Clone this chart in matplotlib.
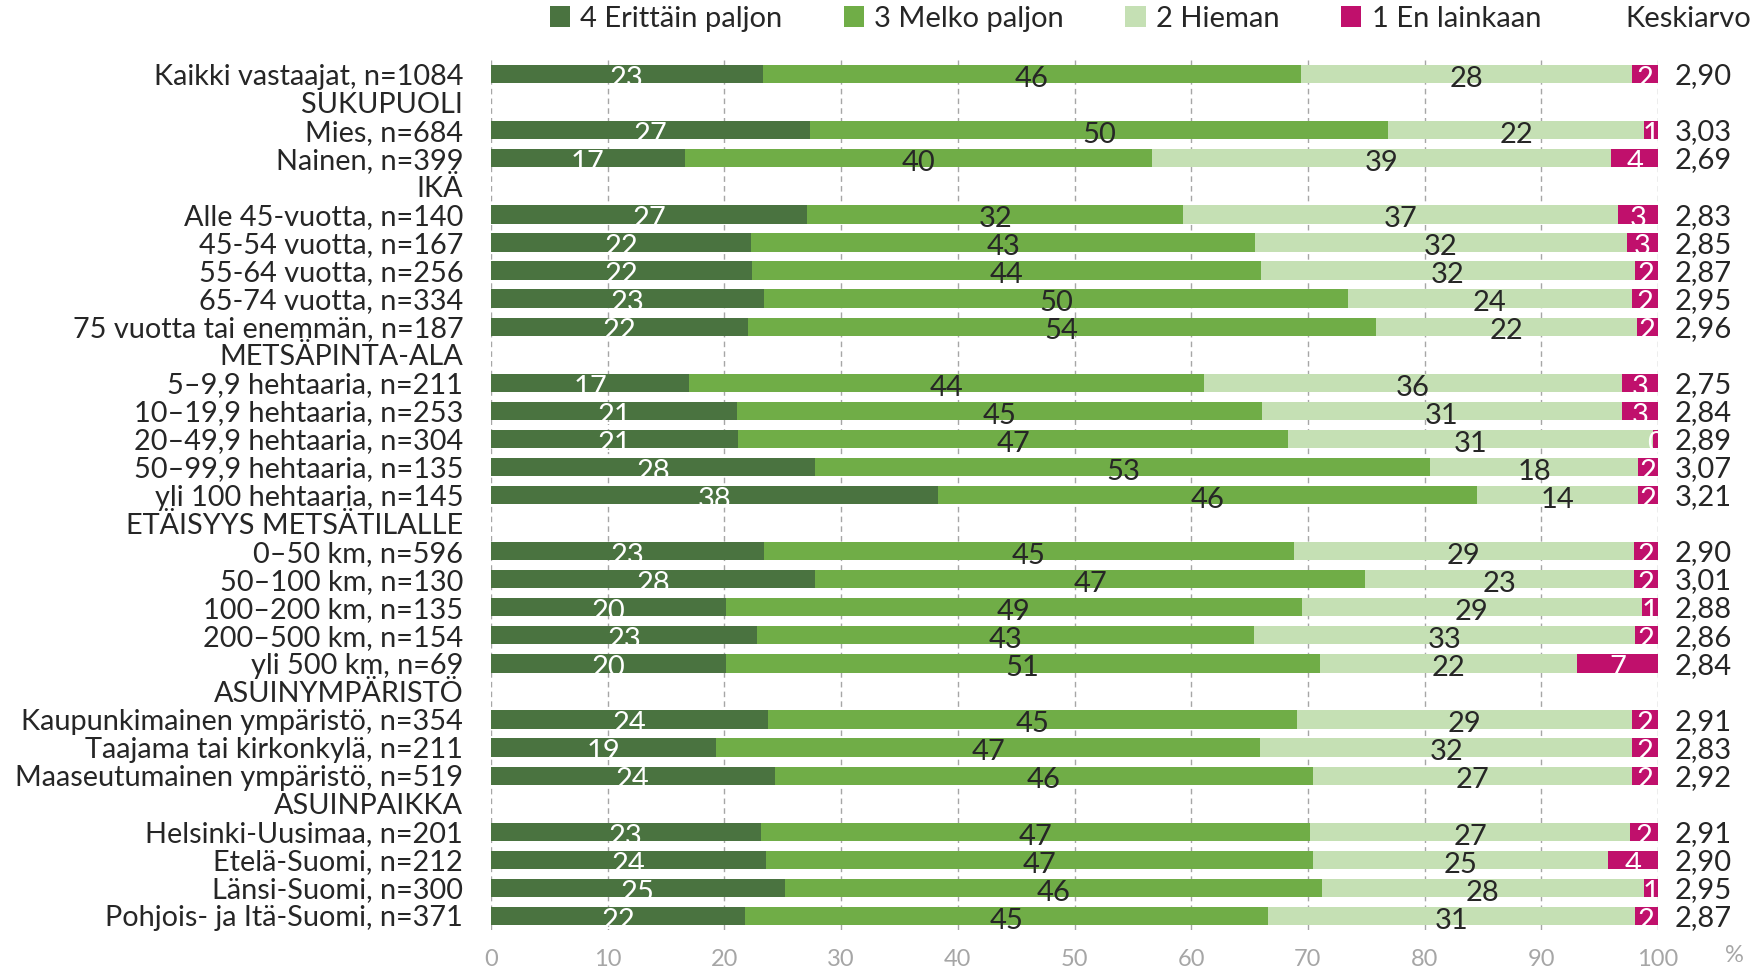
import matplotlib
matplotlib.use("Agg")
import matplotlib.pyplot as plt
from matplotlib.transforms import blended_transform_factory

plt.rcParams['font.family'] = ['Lato', 'DejaVu Sans']

# rows of the chart, None marks a group header row
rows = [
    "Kaikki vastaajat, n=1084", None,
    "Mies, n=684", "Nainen, n=399", None,
    "Alle 45-vuotta, n=140", "45-54 vuotta, n=167", "55-64 vuotta, n=256",
    "65-74 vuotta, n=334", "75 vuotta tai enemmän, n=187", None,
    "5–9,9 hehtaaria, n=211", "10–19,9 hehtaaria, n=253", "20–49,9 hehtaaria, n=304",
    "50–99,9 hehtaaria, n=135", "yli 100 hehtaaria, n=145", None,
    "0–50 km, n=596", "50–100 km, n=130", "100–200 km, n=135",
    "200–500 km, n=154", "yli 500 km, n=69", None,
    "Kaupunkimainen ympäristö, n=354", "Taajama tai kirkonkylä, n=211",
    "Maaseutumainen ympäristö, n=519", None,
    "Helsinki-Uusimaa, n=201", "Etelä-Suomi, n=212", "Länsi-Suomi, n=300",
    "Pohjois- ja Itä-Suomi, n=371",
]
headers = ["SUKUPUOLI", "IKÄ", "METSÄPINTA-ALA", "ETÄISYYS METSÄTILALLE",
           "ASUINYMPÄRISTÖ", "ASUINPAIKKA"]

series_names = ["4 Erittäin paljon", "3 Melko paljon", "2 Hieman", "1 En lainkaan"]
erittain = [23.3, 27.3, 16.6, 27.1, 22.3, 22.4, 23.4, 22.0, 17.0, 21.1, 21.2, 27.8, 38.3,
            23.4, 27.8, 20.1, 22.8, 20.1, 23.7, 19.3, 24.3, 23.1, 23.6, 25.2, 21.8]
melko = [46.1, 49.6, 40.0, 32.2, 43.2, 43.6, 50.0, 53.8, 44.1, 45.0, 47.1, 52.7, 46.2,
         45.4, 47.1, 49.4, 42.6, 50.9, 45.4, 46.6, 46.1, 47.1, 46.8, 46.0, 44.8]
hieman = [28.4, 21.9, 39.4, 37.3, 31.8, 32.0, 24.4, 22.4, 35.8, 30.8, 31.3, 17.8, 13.8,
          29.1, 23.0, 29.1, 32.6, 22.1, 28.7, 31.9, 27.4, 27.4, 25.3, 27.6, 31.4]
ei_lainkaan = [2.2, 1.2, 4.0, 3.4, 2.7, 2.0, 2.2, 1.8, 3.1, 3.1, 0.4, 1.7, 1.7,
               2.1, 2.1, 1.4, 2.0, 6.9, 2.2, 2.2, 2.2, 2.4, 4.3, 1.2, 2.0]
keskiarvo = [2.90, 3.03, 2.69, 2.83, 2.85, 2.87, 2.95, 2.96, 2.75, 2.84, 2.89, 3.07, 3.21,
             2.90, 3.01, 2.88, 2.86, 2.84, 2.91, 2.83, 2.92, 2.91, 2.90, 2.95, 2.87]

colors = ["#4a7340", "#70ad47", "#c5e0b4", "#c0106c"]
label_colors = ["white", "#262626", "#262626", "white"]
text_col = "#262626"

fig = plt.figure(figsize=(17.51, 9.76), dpi=100)
ax = fig.add_axes([0.2804, 0.0471, 0.6665, 0.8914])

ylabels = []
ypos = []
h = 0
for i, r in enumerate(rows):
    if r is None:
        ylabels.append(headers[h])
        h += 1
    else:
        ylabels.append(r)
        ypos.append(i)

series = [erittain, melko, hieman, ei_lainkaan]
left = [0.0] * len(ypos)
handles = []
for s, vals in enumerate(series):
    b = ax.barh(ypos, vals, left=left, height=0.65, color=colors[s],
                label=series_names[s], zorder=2)
    handles.append(b)
    for y, l, v in zip(ypos, left, vals):
        ax.text(l + v / 2, y + 0.17, f"{v:.0f}", ha="center", va="center",
                fontsize=21, color=label_colors[s], zorder=3)
    left = [l + v for l, v in zip(left, vals)]

trans = blended_transform_factory(ax.transAxes, ax.transData)
for y, m in zip(ypos, keskiarvo):
    ax.text(1.0146, y + 0.08, f"{m:.2f}".replace(".", ","), transform=trans,
            ha="left", va="center", fontsize=21, color=text_col)

ax.set_xlim(0, 100)
ax.set_ylim(len(rows) - 0.5, -0.5)
ax.set_yticks(range(len(rows)))
ax.set_yticklabels(ylabels, fontsize=20.8, color=text_col)
ax.set_xticks(range(0, 101, 10))
ax.tick_params(axis="x", labelsize=17, labelcolor="#a6a6a6", length=0, pad=14)
ax.tick_params(axis="y", length=0, pad=20)
for sp in ax.spines.values():
    sp.set_visible(False)
ax.xaxis.grid(True, linestyle=(0, (4, 3)), color="#a6a6a6", linewidth=1, zorder=0)
ax.set_axisbelow(True)

fig.legend(handles=handles, loc="center", bbox_to_anchor=(0.597, 0.981), ncol=4,
           frameon=False, fontsize=21, handlelength=0.7, handleheight=0.7,
           handletextpad=0.35, columnspacing=2.1, labelcolor=text_col)
fig.text(1625 / 1751, 0.981, "Keskiarvo", ha="left", va="center",
         fontsize=21, color=text_col)
fig.text(1734 / 1751, 1 - 955 / 976, "%", ha="center", va="center",
         fontsize=17, color="#a6a6a6")

fig.savefig("out.png", dpi=100)
